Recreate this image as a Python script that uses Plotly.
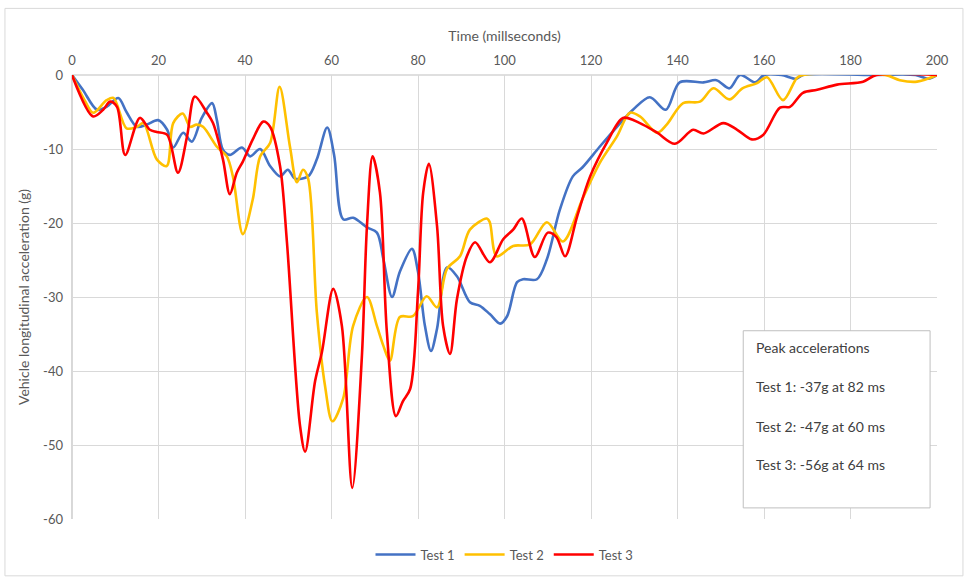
import plotly.graph_objects as go

# ---- data ----
t1_x = [0, 2.5, 5.8, 8, 10.7, 12.6, 15, 17.3, 19.9, 22,
        23.4, 25.7, 27.7, 30, 32.4, 33.5, 34.9, 36.5, 39.3, 41.2,
        43.5, 45.8, 48.1, 49.9, 51.6, 54.6, 56.6, 59, 60.6, 62.7,
        65, 68.2, 70.5, 72, 74, 75.8, 78.6, 80, 81.6, 83,
        84.4, 86.7, 89, 92, 94.3, 96.6, 99, 100.6, 102.9, 104.3,
        107.5, 109.8, 112.8, 115.8, 118, 122, 126, 129.7, 133.6, 137.3,
        140.5, 146, 149, 152, 154.5, 158, 160, 164, 167.5, 169,
        185, 195, 198, 200]
t1_y = [0, -2, -4.7, -4.3, -3.1, -5, -7, -6.7, -6.1, -7.4,
        -9.8, -7.8, -9, -5.8, -3.8, -6.1, -10.1, -10.8, -9.8, -11,
        -10, -12.3, -13.7, -12.8, -14, -13.7, -11.4, -7.1, -10.8, -19.5,
        -19.3, -20.6, -21.3, -24.9, -30, -26.6, -23.5, -26.6, -33.9, -37.3,
        -34.3, -26, -27.2, -30.7, -31.2, -32.3, -33.6, -32.6, -28, -27.6,
        -27.6, -24.9, -18.2, -13.7, -12.5, -9.7, -7, -4.7, -3, -4.7,
        -1, -1, -0.7, -1.8, 0, -1, 0, 0, -0.5, 0,
        0, 0, -0.5, 0]

t2_x = [0, 3, 4.9, 8, 9.6, 12.6, 15, 16.5, 19.6, 21.9,
        23.4, 25.6, 27.3, 28.8, 30.3, 33.5, 35.8, 37.2, 39.5, 41.8,
        43.5, 45.8, 48, 50.4, 52, 53.4, 54.6, 56.6, 58.5, 60.2,
        62.7, 65, 68.2, 70.5, 72, 73.5, 75.8, 78.8, 82, 84.4,
        86.7, 89.7, 92, 95.9, 96.6, 98.2, 102, 105.9, 109.8, 113.5,
        118, 122, 126, 129, 131.3, 135.3, 137.5, 141.3, 145.2, 148.3,
        152, 155, 158.4, 160.7, 164.4, 167.6, 169, 188, 191.4, 195.4,
        200]
t2_y = [0, -3.5, -5.1, -3.4, -3.1, -7.2, -7, -6.5, -11.4, -12.3,
        -6.5, -5.2, -7, -6.7, -7, -9.7, -11, -13.7, -21.5, -16.8,
        -11, -9.2, -1.6, -9.7, -14.5, -12.8, -14, -32, -42, -46.8,
        -43.7, -33.9, -30, -33.9, -36.6, -38.6, -32.7, -32.6, -29.9, -31.4,
        -26.2, -24.5, -20.9, -19.4, -19.9, -24.5, -23.1, -22.9, -19.9, -22.5,
        -16.8, -11.9, -8.3, -5.1, -5.6, -7.8, -6.7, -3.8, -3.6, -1.8,
        -3.3, -1.8, -1.1, -0.3, -3.4, -0.4, 0, 0, -0.7, -0.9,
        0]

t3_x = [0, 4.9, 7.2, 8.8, 10.4, 12.3, 15.7, 18, 19.6, 22,
        24.5, 26.6, 28.4, 31.2, 32.6, 34.9, 36.5, 38.1, 39.5, 41.8,
        44.2, 45.8, 48.1, 49.7, 52.7, 53.9, 56.2, 57.8, 60.4, 62.4,
        64.8, 67, 68.2, 69.5, 71.2, 72.8, 74.9, 76.5, 78.2, 80,
        81.2, 82.5, 84.4, 85.8, 87.4, 89, 91.3, 93.2, 96.6, 99.7,
        102, 104, 107, 110, 112, 114, 116.8, 119.8, 123.7, 127.4,
        131.3, 135.3, 139.4, 143.6, 146, 150.6, 153.8, 157.2, 159.8, 163.7,
        166, 169, 172.3, 176.9, 182.9, 186, 200]
t3_y = [0, -5.6, -4.7, -3.6, -4.3, -10.8, -5.8, -7.4, -7.7, -8.1,
        -13.2, -8.3, -2.9, -5.1, -6.5, -11.4, -16.1, -13.2, -11.7, -8.7,
        -6.3, -7, -12.3, -22.6, -47.3, -50.9, -41.4, -37.4, -28.9, -33.9,
        -55.8, -38.3, -20.4, -11, -15.9, -34.7, -46.1, -44.1, -42.4, -29.3,
        -15.9, -12, -20.4, -33.9, -37.7, -30.3, -24.5, -22.6, -25.3, -22.2,
        -20.9, -19.4, -24.6, -21.3, -21.9, -24.5, -19.1, -13.7, -9.1, -5.8,
        -6.5, -7.8, -9.3, -7.4, -7.9, -6.5, -7.4, -8.7, -8.1, -4.4,
        -4.3, -2.4, -2, -1.3, -0.9, 0, 0]

series_names = ["Test 1", "Test 2", "Test 3"]
series_colors = ["#4472C4", "#FFC000", "#FF0000"]

x_ticks = [0, 20, 40, 60, 80, 100, 120, 140, 160, 180, 200]
y_ticks = [0, -10, -20, -30, -40, -50, -60]
y_tick_labels = ["0", "-10", "-20", "-30", "-40", "-50", "-60"]

box_title = "Peak accelerations"
box_lines = ["Test 1: -37g at 82 ms", "Test 2: -47g at 60 ms", "Test 3: -56g at 64 ms"]

FONT = "Lato, 'Open Sans', sans-serif"
GREY = "#595959"

fig = go.Figure()
for xs, ys, name, col in zip([t1_x, t2_x, t3_x], [t1_y, t2_y, t3_y],
                             series_names, series_colors):
    fig.add_trace(go.Scatter(x=xs, y=ys, mode="lines", name=name,
                             line=dict(color=col, width=2.6, shape="spline", smoothing=0.9)))

fig.update_layout(
    width=967, height=581,
    margin=dict(l=72, r=30, t=75, b=60),
    paper_bgcolor="white", plot_bgcolor="white",
    font=dict(family=FONT, size=13, color=GREY),
    showlegend=True,
    legend=dict(orientation="h", x=0.5, xanchor="center", y=-0.08, yanchor="middle",
                font=dict(size=13, color=GREY), itemwidth=40, tracegroupgap=0),
    xaxis=dict(side="top", range=[0, 200], tickvals=x_ticks, showgrid=True,
               gridcolor="#D9D9D9", gridwidth=1, zeroline=False, automargin=False,
               showline=False, ticks="", ticklabelstandoff=6,
               tickfont=dict(size=13, color=GREY),
               title=dict(text="Time (millseconds)", font=dict(size=14, color=GREY), standoff=7)),
    yaxis=dict(range=[-60, 0], tickvals=y_ticks, ticktext=y_tick_labels, showgrid=True,
               gridcolor="#D9D9D9", gridwidth=1, zeroline=False, showline=False, ticks="",
               automargin=False, ticklabelstandoff=8,
               tickfont=dict(size=13, color=GREY),
               title=dict(text="Vehicle longitudinal acceleration (g)",
                          font=dict(size=14, color=GREY), standoff=10)),
)

# top axis line (y = 0) and left axis line
fig.add_shape(type="line", xref="paper", yref="paper", x0=0, x1=1, y0=1, y1=1,
              line=dict(color="#BFBFBF", width=1.2), layer="below")
fig.add_shape(type="line", xref="paper", yref="paper", x0=0, x1=0, y0=0, y1=1,
              line=dict(color="#BFBFBF", width=1.2), layer="below")

# outer chart border
fig.add_shape(type="rect", xref="paper", yref="paper",
              x0=-0.0775, x1=1.030, y0=-0.128, y1=1.150,
              line=dict(color="#D9D9D9", width=1), layer="below")

# peak acceleration text box
fig.add_shape(type="rect", xref="paper", yref="paper",
              x0=0.776, x1=0.992, y0=0.025, y1=0.424,
              line=dict(color="#BFBFBF", width=1), fillcolor="white", layer="above")
ys_txt = [0.386, 0.298, 0.209, 0.123]
for txt, yy in zip([box_title] + box_lines, ys_txt):
    fig.add_annotation(text=txt, xref="paper", yref="paper", x=0.789, y=yy,
                       xanchor="left", yanchor="middle", showarrow=False,
                       font=dict(family=FONT, size=14, color="#404040"))

fig.write_html("out.html", config={"displayModeBar": False},
               post_script="document.body.style.margin='0';")
